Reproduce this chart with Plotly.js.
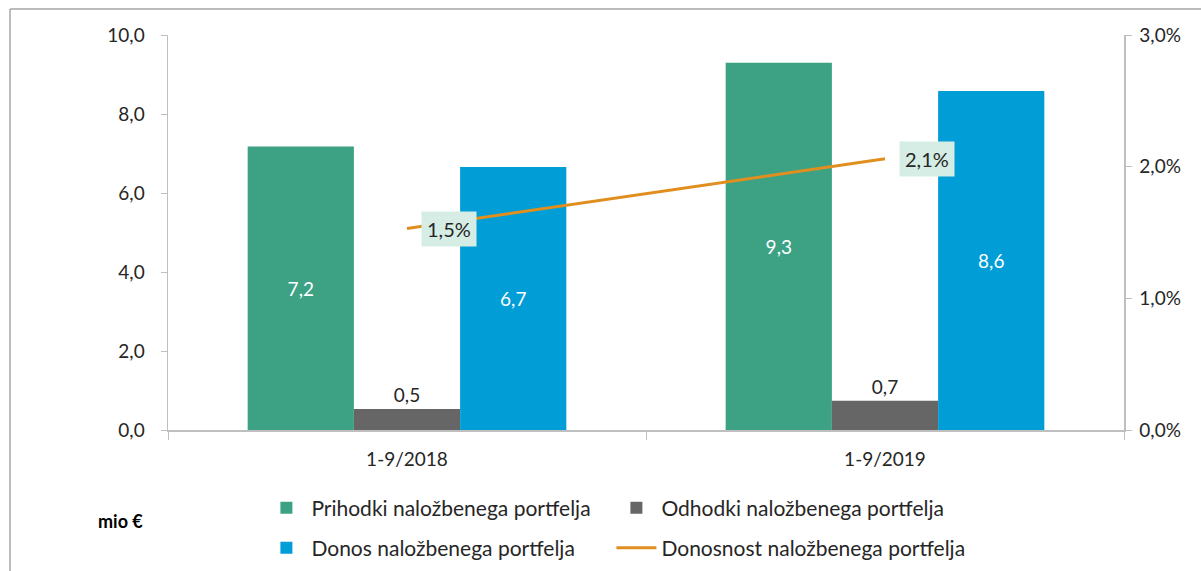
<!DOCTYPE html>
<html>
<head>
<meta charset="utf-8">
<script src="https://cdn.plot.ly/plotly-3.0.1.min.js"></script>
<style>html,body{margin:0;padding:0;background:#fff;}#chart{width:1201px;height:571px;}</style>
</head>
<body>
<div id="chart"></div>
<script>
var categories = ["1-9/2018", "1-9/2019"];
var prihodki = [7.18, 9.30];
var odhodki = [0.53, 0.74];
var donos = [6.66, 8.58];
var donosnost = [0.0153, 0.0206];
var seriesNames = ["Prihodki naložbenega portfelja", "Odhodki naložbenega portfelja", "Donos naložbenega portfelja", "Donosnost naložbenega portfelja"];
var leftTicks = [0, 2, 4, 6, 8, 10];
var rightTicks = [0, 0.01, 0.02, 0.03];
var unitLabel = "mio €";

var FONT = "Lato, 'Open Sans', sans-serif";
var TXT = "#262626";

var traces = [
  {type: "bar", name: seriesNames[0], x: categories, y: prihodki, legend: "legend",
   marker: {color: "#3DA284"}, texttemplate: "%{y:.1f}", textposition: "inside",
   insidetextanchor: "middle", textfont: {color: "#ffffff", size: 19, family: FONT}, hoverinfo: "skip"},
  {type: "bar", name: seriesNames[1], x: categories, y: odhodki, legend: "legend2",
   marker: {color: "#666666"}, texttemplate: "%{y:.1f}", textposition: "outside",
   textfont: {color: TXT, size: 19, family: FONT}, cliponaxis: false, hoverinfo: "skip"},
  {type: "bar", name: seriesNames[2], x: categories, y: donos, legend: "legend3",
   marker: {color: "#009DD6"}, texttemplate: "%{y:.1f}", textposition: "inside",
   insidetextanchor: "middle", textfont: {color: "#ffffff", size: 19, family: FONT}, hoverinfo: "skip"},
  {type: "scatter", mode: "lines", name: seriesNames[3], x: categories, y: donosnost, legend: "legend4",
   yaxis: "y2", line: {color: "#E08F1F", width: 3}, hoverinfo: "skip"}
];

var annotations = categories.map(function (c, i) {
  return {x: c, y: donosnost[i], xref: "x", yref: "y2", xshift: 42,
    text: (donosnost[i] * 100).toFixed(1).replace(".", ",") + "%",
    showarrow: false, bgcolor: "#D5EDE4", borderpad: 5,
    font: {size: 20, color: TXT, family: FONT}};
});
annotations.push({x: -0.05, y: -0.23, xref: "paper", yref: "paper", xanchor: "center", yanchor: "middle",
  text: "<b>" + unitLabel + "</b>", showarrow: false, font: {size: 18, color: "#000", family: FONT}});

function mkLegend(x, y) {
  return {orientation: "h", x: x, y: y, xanchor: "left", yanchor: "middle",
    font: {size: 21, color: TXT, family: FONT}, itemwidth: 40, bgcolor: "rgba(0,0,0,0)"};
}
var col1 = 0.0977, col2 = 0.0977 + 350 / 956, row1 = -0.1975, row2 = -0.2987;

var layout = {
  width: 1201, height: 571,
  margin: {l: 168, r: 77, t: 35, b: 141, autoexpand: false},
  paper_bgcolor: "#fff", plot_bgcolor: "#fff",
  separators: ",.",
  font: {family: FONT, color: TXT, size: 19},
  barmode: "group", bargap: 1/3, bargroupgap: 0,
  showlegend: true,
  legend: mkLegend(col1, row1),
  legend2: mkLegend(col2, row1),
  legend3: mkLegend(col1, row2),
  legend4: mkLegend(col2, row2),
  xaxis: {showline: true, linecolor: "#BFBFBF", linewidth: 1.5, ticks: "outside", tickson: "boundaries",
    ticklen: 8, tickcolor: "#BFBFBF", showgrid: false, zeroline: false, fixedrange: true,
    ticklabelstandoff: 12, tickfont: {size: 19, color: TXT}},
  yaxis: {range: [0, 10], tickvals: leftTicks, tickformat: ".1f", showline: true, linecolor: "#BFBFBF",
    linewidth: 1.5, ticks: "outside", ticklen: 6, tickcolor: "#BFBFBF", showgrid: false, zeroline: false,
    ticklabelstandoff: 12, tickfont: {size: 19, color: TXT}},
  yaxis2: {range: [0, 0.03], tickvals: rightTicks, tickformat: ".1%", overlaying: "y", side: "right",
    showline: true, linecolor: "#BFBFBF", linewidth: 1.5, ticks: "outside", ticklen: 6, tickcolor: "#BFBFBF",
    showgrid: false, zeroline: false, ticklabelstandoff: 4, tickfont: {size: 19, color: TXT}},
  annotations: annotations,
  shapes: [
    {type: "line", xref: "paper", yref: "paper", x0: (10 - 168) / 956, x1: 1.2, y0: (571 - 141 - 9) / 395, y1: (571 - 141 - 9) / 395,
     line: {color: "#A6A6A6", width: 1.5}},
    {type: "line", xref: "paper", yref: "paper", x0: (10 - 168) / 956, x1: (10 - 168) / 956, y0: (571 - 141 - 9) / 395, y1: -0.5,
     line: {color: "#A6A6A6", width: 1.5}}
  ]
};

Plotly.newPlot("chart", traces, layout, {displayModeBar: false, staticPlot: true});
</script>
</body>
</html>
